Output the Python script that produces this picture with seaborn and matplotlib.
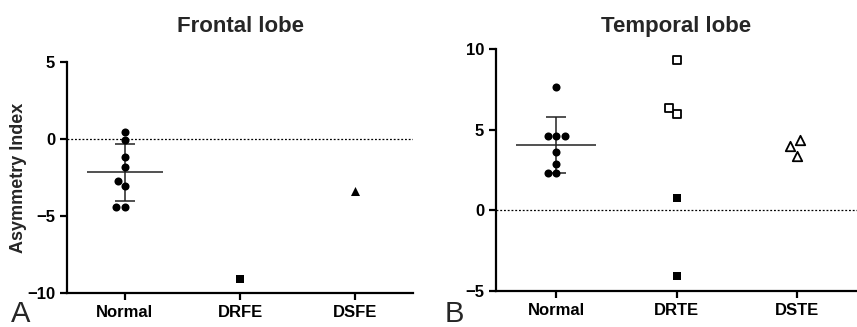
import seaborn as sns
import matplotlib.pyplot as plt
import numpy as np
import pandas as pd

# Asymmetry index values
frontal_normal = [0.47, -0.06, -1.19, -1.79, -2.74, -3.02, -4.44, -4.44]
frontal_drfe = [-9.07]
frontal_dsfe = [-3.36]
frontal_groups = ["Normal", "DRFE", "DSFE"]

temporal_normal = [7.64, 4.58, 4.58, 4.58, 3.62, 2.88, 2.30, 2.30]
temporal_drte_open = [9.32, 5.98, 6.34]
temporal_drte_filled = [0.75, -4.08]
temporal_dste = [4.39, 3.98, 3.40]
temporal_groups = ["Normal", "DRTE", "DSTE"]

sns.set_theme(style="ticks")
plt.rcParams['font.family'] = ['Liberation Sans', 'DejaVu Sans']
plt.rcParams['font.weight'] = 'bold'
plt.rcParams['axes.linewidth'] = 1.6
plt.rcParams['xtick.major.width'] = 1.6
plt.rcParams['ytick.major.width'] = 1.6
plt.rcParams['xtick.major.size'] = 5
plt.rcParams['ytick.major.size'] = 5
plt.rcParams['xtick.color'] = 'black'
plt.rcParams['ytick.color'] = 'black'
plt.rcParams['axes.edgecolor'] = 'black'


def df(group, values):
    return pd.DataFrame({"group": group, "value": values})


def swarm(ax, data, order, marker, size, filled=True):
    if filled:
        sns.swarmplot(data=data, x="group", y="value", order=order, ax=ax,
                      color="black", marker=marker, size=size, linewidth=0)
    else:
        sns.swarmplot(data=data, x="group", y="value", order=order, ax=ax,
                      color="white", edgecolor="black", linewidth=1.3,
                      marker=marker, size=size)


def mean_sd(ax, values, pos=0):
    m = np.mean(values)
    s = np.std(values, ddof=1)
    ax.hlines(m, pos - 0.33, pos + 0.33, color="#222222", lw=1.1, zorder=1)
    ax.errorbar(pos, m, yerr=s, color="#222222", lw=1.1, capsize=7,
                capthick=1.1, zorder=1)


def style(ax, ylim, yticks, title, pad):
    ax.axhline(0, color="black", ls=(0, (1.5, 1.5)), lw=0.9, zorder=0)
    ax.set_xlim(-0.5, 2.5)
    ax.set_ylim(*ylim)
    ax.set_yticks(yticks)
    ax.set_xlabel("")
    ax.set_ylabel("")
    ax.set_title(title, fontsize=16, fontweight="bold", pad=pad)
    ax.tick_params(labelsize=12)
    for lab in ax.get_xticklabels() + ax.get_yticklabels():
        lab.set_fontweight("bold")
    sns.despine(ax=ax)


fig = plt.figure(figsize=(8.57, 3.27), dpi=100)
ax1 = fig.add_axes([0.0782, 0.104, 0.4037, 0.706])
ax2 = fig.add_axes([0.5788, 0.110, 0.4212, 0.740])

# Frontal lobe
swarm(ax1, df("Normal", frontal_normal), frontal_groups, "o", 5.8)
swarm(ax1, df("DRFE", frontal_drfe), frontal_groups, "s", 5.5)
swarm(ax1, df("DSFE", frontal_dsfe), frontal_groups, "^", 6.5)
mean_sd(ax1, frontal_normal)
style(ax1, (-10, 5), [-10, -5, 0, 5], "Frontal lobe", 22)
ax1.set_ylabel("Asymmetry Index", fontsize=13, fontweight="bold")
ax1.yaxis.set_label_coords(-0.115, 0.5)

# Temporal lobe
swarm(ax2, df("Normal", temporal_normal), temporal_groups, "o", 5.8)
swarm(ax2, df("DRTE", temporal_drte_open), temporal_groups, "s", 5.2, filled=False)
swarm(ax2, df("DRTE", temporal_drte_filled), temporal_groups, "s", 5.5)
swarm(ax2, df("DSTE", temporal_dste), temporal_groups, "^", 6.8, filled=False)
mean_sd(ax2, temporal_normal)
style(ax2, (-5, 10), [-5, 0, 5, 10], "Temporal lobe", 12)

fig.text(0.013, 0.015, "A", fontsize=21, fontweight="normal")
fig.text(0.519, 0.015, "B", fontsize=21, fontweight="normal")

plt.savefig("out.png", dpi=100)
plt.close()
